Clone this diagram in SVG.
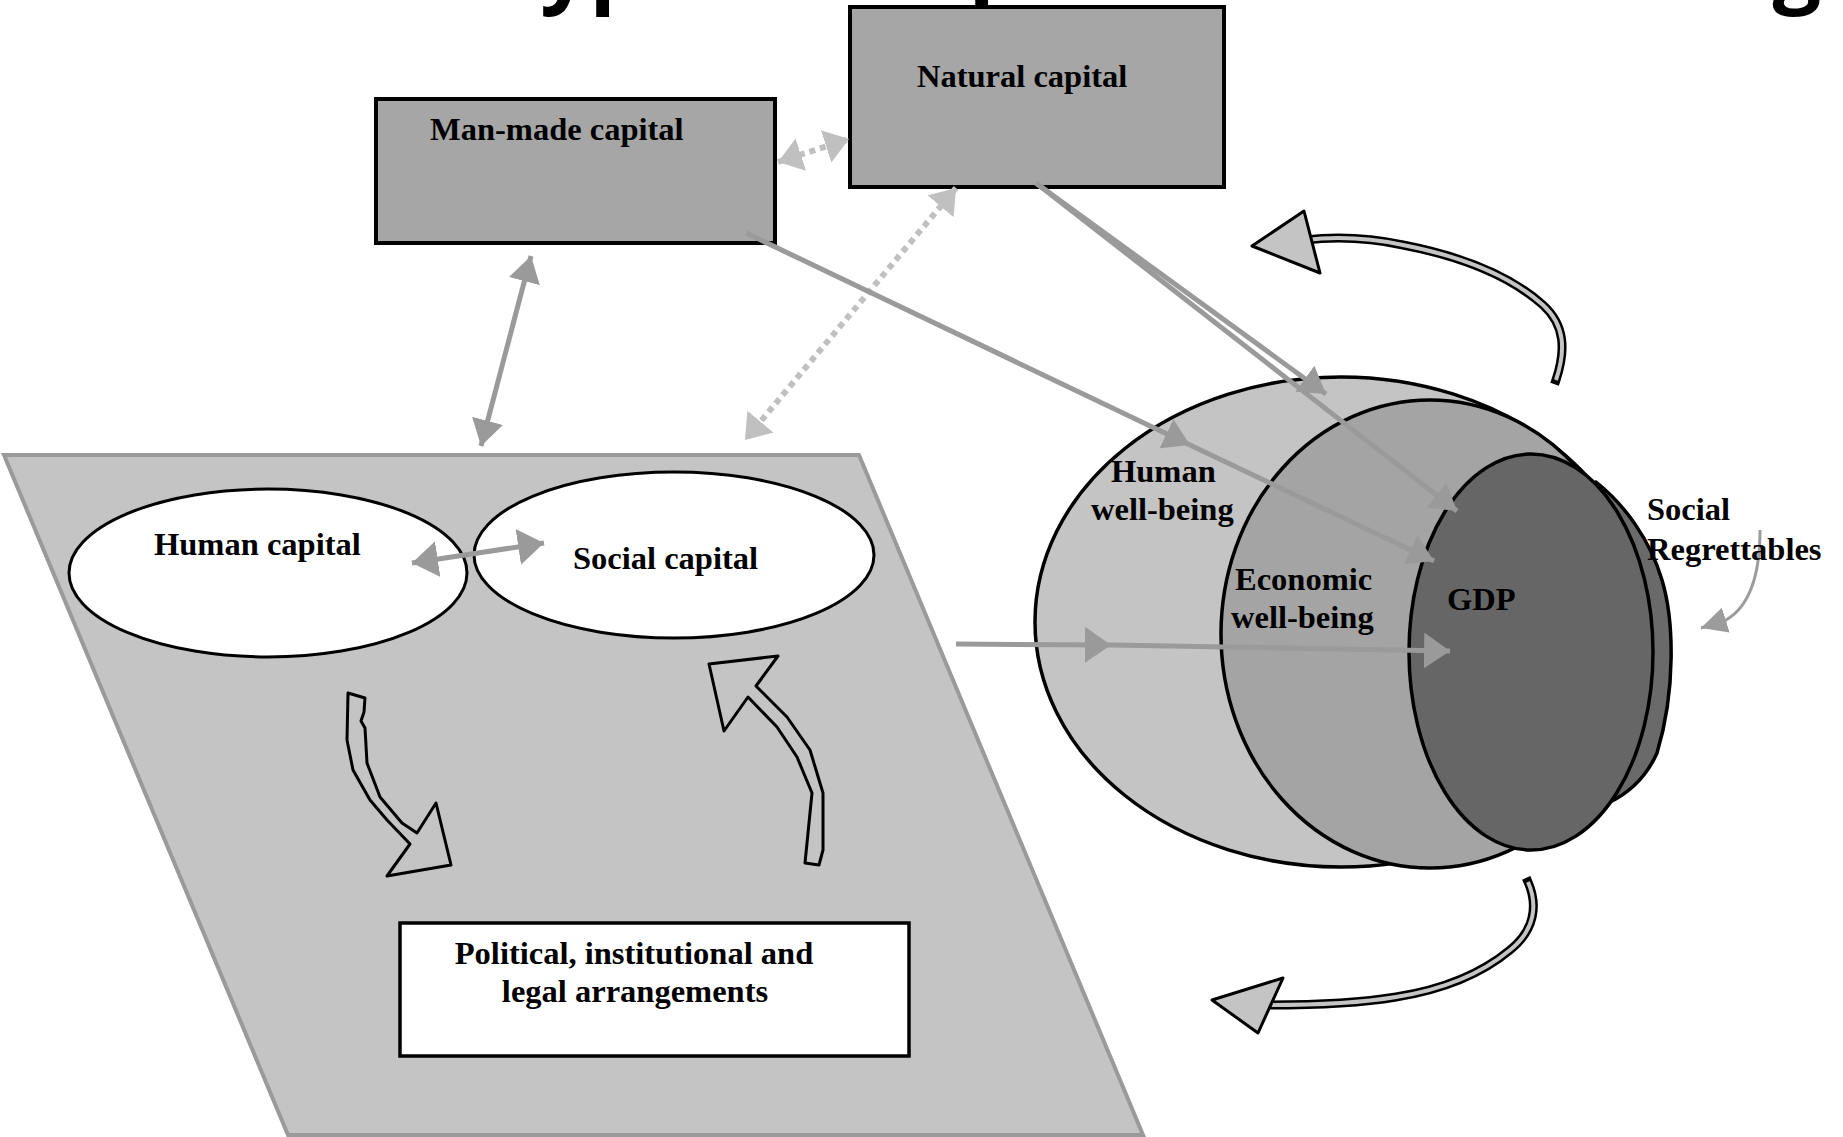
<svg xmlns="http://www.w3.org/2000/svg" width="1843" height="1137" viewBox="0 0 1843 1137">
<style>
.lbl{font-family:"Liberation Serif","Times New Roman",serif;font-weight:bold;font-size:32.5px;fill:#000}
.box{fill:#a6a6a6;stroke:#000;stroke-width:4}
.ell{fill:#fff;stroke:#000;stroke-width:3}
.ln{fill:none;stroke:#9a9a9a;stroke-width:5}
.dot{fill:none;stroke:#c0c0c0;stroke-width:6;stroke-dasharray:6 5}
.hol{fill:#c4c4c4;stroke:#000;stroke-width:3;stroke-linejoin:round}
.holo{fill:none;stroke:#000;stroke-width:9;stroke-linecap:square;stroke-linejoin:round}
.holi{fill:none;stroke:#c4c4c4;stroke-width:4;stroke-linejoin:round}
</style>
<defs>
<marker id="mD" markerUnits="userSpaceOnUse" viewBox="0 0 26 32" markerWidth="26" markerHeight="32" refX="26" refY="16" orient="auto-start-reverse"><path d="M0,0 L26,16 L0,32 z" fill="#9a9a9a"/></marker>
<marker id="mL" markerUnits="userSpaceOnUse" viewBox="0 0 24 34" markerWidth="24" markerHeight="34" refX="24" refY="17" orient="auto-start-reverse"><path d="M0,0 L24,17 L0,34 z" fill="#c0c0c0"/></marker>
<marker id="mH" markerUnits="userSpaceOnUse" viewBox="0 0 26 36" markerWidth="26" markerHeight="36" refX="26" refY="18" orient="auto-start-reverse"><path d="M0,0 L26,18 L0,36 z" fill="#9a9a9a"/></marker>
<marker id="mT" markerUnits="userSpaceOnUse" viewBox="0 0 26 26" markerWidth="26" markerHeight="26" refX="26" refY="13" orient="auto"><path d="M0,0 L26,13 L0,26 z" fill="#9c9c9c"/></marker>
</defs>
<rect width="1843" height="1137" fill="#fff"/>
<g id="title">
<text x="490" y="-4" style="font-family:'Open Sans','Noto Sans',sans-serif;font-weight:bold;font-size:86px;letter-spacing:0.4px" fill="#000">Types of capital and well-being</text>
</g>
<g id="platform">
<polygon points="4,455 859,455 1143,1135 288,1135" fill="#c4c4c4" stroke="#9a9a9a" stroke-width="4"/>
</g>
<g id="human-capital">
<ellipse class="ell" cx="268" cy="573" rx="199" ry="84"/>
<text class="lbl" x="154" y="555">Human capital</text>
</g>
<g id="social-capital">
<ellipse class="ell" cx="674" cy="555" rx="200" ry="83"/>
<text class="lbl" x="573" y="569">Social capital</text>
</g>
<g id="political">
<rect x="400" y="923" width="509" height="133" fill="#fff" stroke="#000" stroke-width="3.5"/>
<text class="lbl" x="634" y="964" text-anchor="middle">Political, institutional and</text>
<text class="lbl" x="635" y="1002" text-anchor="middle">legal arrangements</text>
</g>
<g id="man-made-capital">
<rect class="box" x="376" y="99" width="399" height="144"/>
<text class="lbl" x="430" y="140">Man-made capital</text>
</g>
<g id="natural-capital">
<rect class="box" x="850" y="7" width="374" height="180"/>
<text class="lbl" x="917" y="87">Natural capital</text>
</g>
<g id="human-well-being">
<ellipse cx="1341" cy="622" rx="306" ry="245" fill="#c4c4c4" stroke="#000" stroke-width="3.5"/>
<text class="lbl" x="1111" y="482">Human</text>
<text class="lbl" x="1091" y="520">well-being</text>
</g>
<g id="economic-well-being">
<ellipse cx="1430" cy="634" rx="209" ry="234" fill="#a4a4a4" stroke="#000" stroke-width="3.5"/>
<text class="lbl" x="1235" y="590">Economic</text>
<text class="lbl" x="1231" y="628">well-being</text>
</g>
<g id="social-regrettables">
<path d="M1596,482 C1625,505 1650,540 1662,580 C1674,620 1676,690 1657,753 C1645,780 1625,795 1608,803 L1560,650 Z" fill="#6a6a6a" stroke="#000" stroke-width="3.5" stroke-linejoin="round"/>
</g>
<g id="gdp">
<ellipse cx="1531" cy="652" rx="122" ry="198" fill="#666" stroke="#000" stroke-width="3.5"/>
<text class="lbl" x="1447" y="610">GDP</text>
</g>
<g id="connectors">
<line class="ln" x1="531" y1="256" x2="481" y2="446" stroke-width="4.5" marker-start="url(#mD)" marker-end="url(#mD)"/>
<line class="dot" x1="778" y1="162" x2="849" y2="139" marker-start="url(#mL)" marker-end="url(#mL)"/>
<line class="dot" x1="956" y1="188" x2="745" y2="440" marker-start="url(#mL)" marker-end="url(#mL)"/>
<line class="ln" x1="746" y1="233" x2="1190" y2="445" marker-end="url(#mD)"/>
<line class="ln" x1="1190" y1="445" x2="1434" y2="561" marker-end="url(#mD)"/>
<line class="ln" x1="1036" y1="183" x2="1326" y2="394" marker-end="url(#mD)"/>
<line class="ln" x1="1036" y1="183" x2="1457" y2="511" marker-end="url(#mD)"/>
<line class="ln" x1="956" y1="644" x2="1111" y2="645" stroke-width="6" marker-end="url(#mH)"/>
<line class="ln" x1="1111" y1="645" x2="1450" y2="651" stroke-width="6" marker-end="url(#mH)"/>
<line class="ln" x1="412" y1="563" x2="544" y2="543" stroke-width="6" marker-start="url(#mH)" marker-end="url(#mH)"/>
<path d="M1760,530 C1760,570 1752,605 1726,620 L1701,628" fill="none" stroke="#9c9c9c" stroke-width="3" marker-end="url(#mT)"/>
<path class="hol" d="M348,693 L365,698 L364,712 L361,721 L365,728 L367,763 L380,797 L402,823 L417,833 L436,803 L451,865 L387,876 L410,844 L387,820 L370,800 L353,770 L347,740 Z"/>
<path class="hol" d="M805,863 L812,793 L797,757 L777,727 L748,697 L724,731 L709,664 L778,656 L756,686 L787,717 L810,750 L823,793 L823,850 L819,865 Z"/>
<path class="holo" d="M1556,380 C1566,350 1565,325 1543,305 C1515,280 1470,258 1403,245 C1370,238 1340,236 1305,240"/>
<path class="holi" d="M1556,380 C1566,350 1565,325 1543,305 C1515,280 1470,258 1403,245 C1370,238 1340,236 1305,240"/>
<polygon class="hol" points="1252,246 1304,211 1320,273"/>
<path class="holo" d="M1528,882 C1538,905 1535,930 1510,950 C1480,975 1440,990 1396,997 C1360,1003 1320,1005 1270,1005"/>
<path class="holi" d="M1528,882 C1538,905 1535,930 1510,950 C1480,975 1440,990 1396,997 C1360,1003 1320,1005 1270,1005"/>
<polygon class="hol" points="1212,1000 1283,978 1258,1033"/>
</g>
<g id="social-regrettables-label">
<text class="lbl" x="1647" y="520">Social</text>
<text class="lbl" x="1647" y="560">Regrettables</text>
</g>
</svg>
